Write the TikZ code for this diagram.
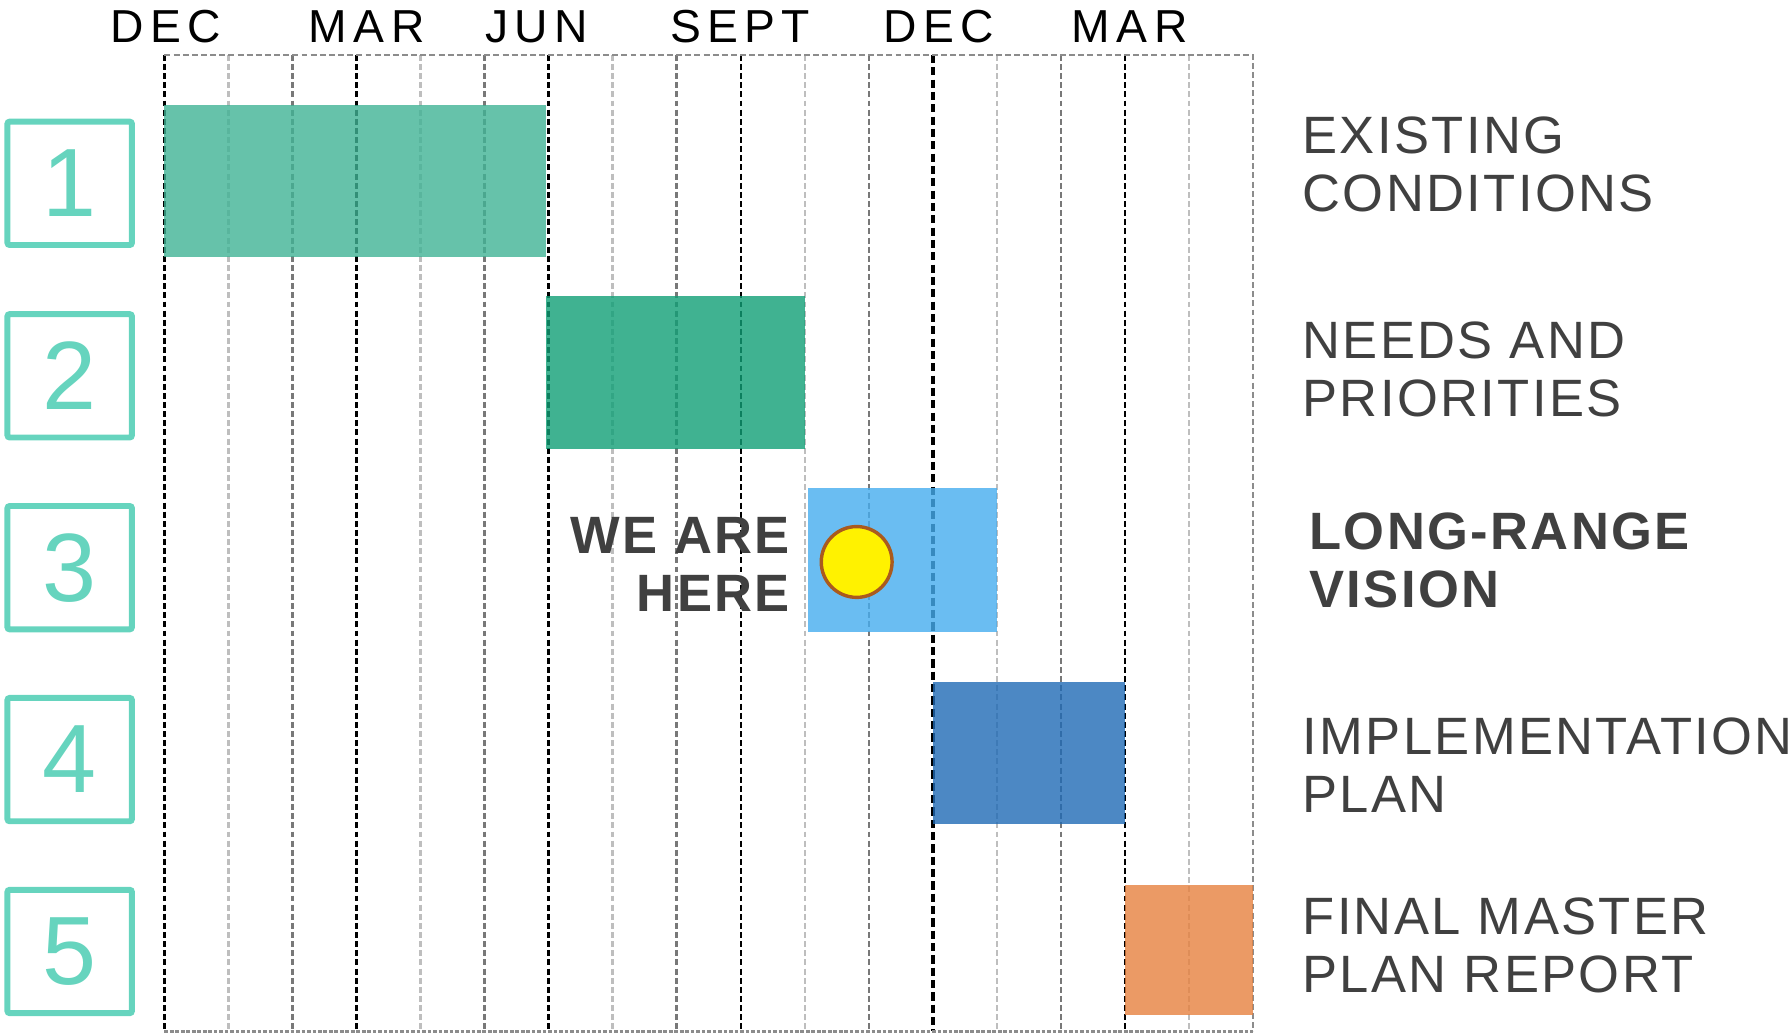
\documentclass[tikz,border=0pt]{standalone}
\usepackage{fontspec}
\setmainfont{Liberation Sans}
\newfontfamily\taskfont[LetterSpace=4.5]{Liberation Sans}
\newfontfamily\monthfont[LetterSpace=14]{Liberation Sans}
\definecolor{numteal}{RGB}{102,212,190}
\definecolor{labelgray}{RGB}{64,64,64}
\definecolor{gridlight}{RGB}{190,190,190}
\definecolor{griddark}{RGB}{120,120,120}
\definecolor{gridedge}{RGB}{140,140,140}
\definecolor{phaseone}{RGB}{64,179,149}
\definecolor{phasetwo}{RGB}{16,159,118}
\definecolor{phasethree}{RGB}{69,173,239}
\definecolor{phasefour}{RGB}{31,106,181}
\definecolor{phasefive}{RGB}{230,129,63}
\definecolor{herering}{RGB}{170,90,30}

\begin{document}
\begin{tikzpicture}[x=0.5pt,y=-0.5pt]
            \tikzstyle{every node}+=[inner sep=0pt]
            \tikzstyle{numbox}=[draw=numteal, line width=2.6pt, rounded corners=1pt, minimum width=54.5pt, minimum height=54pt, text=numteal, font=\fontsize{42.5pt}{42.5pt}\selectfont]
            \tikzstyle{tasklabel}=[anchor=west, align=left, text=labelgray, font=\taskfont\fontsize{23pt}{25.5pt}\selectfont]
            \tikzstyle{boldlabel}=[text=labelgray, font=\taskfont\bfseries\fontsize{23pt}{25.5pt}\selectfont]
            \tikzstyle{monthlabel}=[anchor=base, font=\monthfont\fontsize{20.25pt}{20.25pt}\selectfont]
            \tikzstyle{phasebar}=[fill opacity=0.8]
            \useasboundingbox (0,0) rectangle (1568,905);
            % month grid
            \foreach \i in {1,4,7,10,13,16} {
                \pgfmathsetmacro{\gx}{144+56.06*\i}
                \draw [gridlight, line width=1.1pt, dash pattern=on 2.6pt off 1.4pt] (\gx,48) -- (\gx,903);
            }
            \foreach \i in {2,5,8,11,14} {
                \pgfmathsetmacro{\gx}{144+56.06*\i}
                \draw [griddark, line width=1.1pt, dash pattern=on 2.6pt off 1.4pt] (\gx,48) -- (\gx,903);
            }
            \foreach \i in {0,3,6,9,15} {
                \pgfmathsetmacro{\gx}{144+56.06*\i}
                \draw [black, line width=1.1pt, dash pattern=on 2.6pt off 1.4pt] (\gx,48) -- (\gx,903);
            }
            \draw [black, line width=1.5pt, dash pattern=on 3.6pt off 1.8pt] (817,48) -- (817,903);
            \draw [gridedge, line width=1.1pt, dash pattern=on 2.6pt off 1.4pt] (144,48) -- (1097,48) -- (1097,903);
            \draw [gridedge, line width=1.6pt, dash pattern=on 1.6pt off 0.8pt] (144,903) -- (1097,903);
            % phases
            \fill [phaseone, phasebar] (144,92) rectangle (478,225);
            \fill [phasetwo, phasebar] (478,259) rectangle (705,393);
            \fill [phasethree, phasebar] (707,427) rectangle (873,553);
            \fill [phasefour, phasebar] (817,597) rectangle (985,721);
            \fill [phasefive, phasebar] (985,775) rectangle (1097,889);
            % months
            \node [monthlabel] (dec1) at (145,37) {DEC};
            \node [monthlabel] (mar1) at (321,37) {MAR};
            \node [monthlabel] (jun1) at (470,37) {JUN};
            \node [monthlabel] (sep1) at (648,37) {SEPT};
            \node [monthlabel] (dec2) at (822,37) {DEC};
            \node [monthlabel] (mar2) at (989,37) {MAR};
            % phase numbers
            \node [numbox] (num1) at (61,160.5) {1};
            \node [numbox] (num2) at (61,329) {2};
            \node [numbox] (num3) at (61,497) {3};
            \node [numbox] (num4) at (61,665) {4};
            \node [numbox] (num5) at (61,833) {5};
            % phase names
            \node [tasklabel] (task1) at (1140,144) {EXISTING\\CONDITIONS};
            \node [tasklabel] (task2) at (1140,323.5) {NEEDS AND\\PRIORITIES};
            \node [tasklabel, boldlabel] (task3) at (1146,490.5) {LONG-RANGE\\VISION};
            \node [tasklabel] (task4) at (1140,670) {IMPLEMENTATION\\PLAN};
            \node [tasklabel] (task5) at (1140,827.5) {FINAL MASTER\\PLAN REPORT};
            % current position
            \node [boldlabel, anchor=east, align=right] (here) at (692,494) {WE ARE\\HERE};
            \draw [herering, line width=1.5pt, fill=yellow] (750,492) circle (31);
        \end{tikzpicture}
\end{document}
